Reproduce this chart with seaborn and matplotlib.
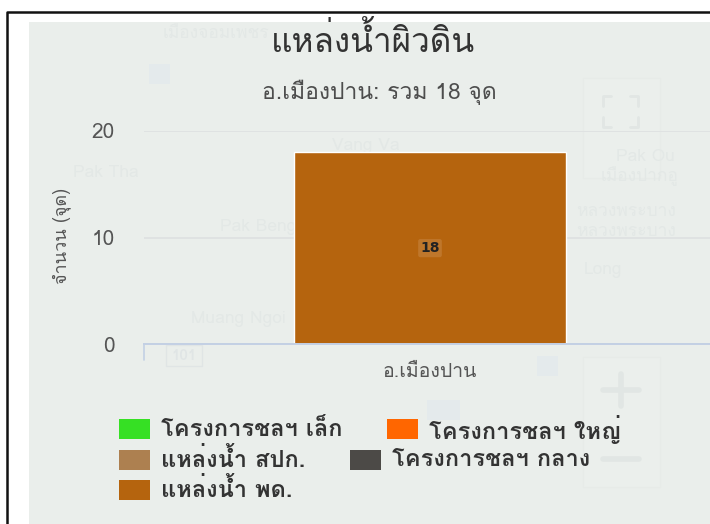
import pandas as pd
import seaborn as sns
import matplotlib
matplotlib.use('Agg')
import matplotlib.pyplot as plt
from matplotlib.patches import Rectangle

# data
districts = ['อ.เมืองปาน']
sources = ['โครงการชลฯ เล็ก', 'โครงการชลฯ ใหญ่', 'แหล่งน้ำ สปก.', 'โครงการชลฯ กลาง', 'แหล่งน้ำ พด.']
counts = [0, 0, 0, 0, 18]
colors = ['#36e024', '#ff6600', '#ad8050', '#4c4a47', '#b5640e']
y_ticks = [0, 10, 20]

title = 'แหล่งน้ำผิวดิน'
subtitle = 'อ.เมืองปาน: รวม 18 จุด'
y_title = 'จำนวน (จุด)'

# faint base map labels behind the chart
map_labels = ['Vang Va', 'Pak Ou', 'เมืองปากอู', 'Pak Tha', 'Pak Beng', 'Muang Ngoi', 'Long', 'หลวงพระบาง', 'หลวงพระบาง', 'เมืองจอมเพชร']
map_label_xy = [(366, 146), (646, 157), (640, 176), (106, 173), (258, 227), (238, 319), (603, 270), (626, 212), (626, 232), (216, 34)]

sns.set_theme(style='white')
plt.rcParams['font.family'] = ['Loma', 'DejaVu Sans']

fig = plt.figure(figsize=(7.1, 5.24), dpi=100, facecolor='white')

# background layer in pixel coordinates
bg = fig.add_axes([0, 0, 1, 1], zorder=0)
bg.set_xlim(0, 710)
bg.set_ylim(524, 0)
bg.axis('off')
bg.add_patch(Rectangle((29, 22), 681, 502, color='#eaeeeb', lw=0))
bg.plot([7, 7, 710], [524, 12, 12], color='#111111', lw=1.8)

for label, (x, y) in zip(map_labels, map_label_xy):
    bg.text(x, y, label, color='#e3e8e6', fontsize=12.5, ha='center', va='center')

# map controls and road signs
bg.add_patch(Rectangle((583, 78), 77, 100, fc='#ebefec', ec='#e7ebe8', lw=0.8))
bg.add_patch(Rectangle((583, 357), 77, 130, fc='#ebefec', ec='#e7ebe8', lw=0.8))
bg.plot([603, 639], [390, 390], color='#e1e6e4', lw=4)
bg.plot([621, 621], [374, 406], color='#e1e6e4', lw=4)
bg.plot([603, 639], [459, 459], color='#e1e6e4', lw=4)
bg.plot([603, 603, 611], [106, 96, 96], color='#e1e6e4', lw=2)
bg.plot([630, 638, 638], [96, 96, 106], color='#e1e6e4', lw=2)
bg.plot([603, 603, 611], [117, 127, 127], color='#e1e6e4', lw=2)
bg.plot([630, 638, 638], [127, 127, 117], color='#e1e6e4', lw=2)
bg.add_patch(Rectangle((149, 64), 21, 20, color='#e4eaec', lw=0))
bg.add_patch(Rectangle((537, 356), 21, 20, color='#e4eaec', lw=0))
bg.add_patch(Rectangle((427, 400), 33, 20, color='#e4eaec', lw=0))
bg.add_patch(Rectangle((166, 345), 36, 21, fc='none', ec='#e0e5e5', lw=1))
bg.text(184, 356, '101', color='#e0e5e5', fontsize=11, fontweight='bold', ha='center', va='center')

# chart
df = pd.DataFrame({'district': districts * len(sources), 'source': sources, 'count': counts})
ax = fig.add_axes([144 / 710, 1 - 344 / 524, 566 / 710, 213 / 524], zorder=1)
ax.patch.set_alpha(0)
sns.barplot(data=df, x='district', y='count', hue='source', hue_order=sources,
            palette=colors, saturation=1, dodge=False, width=0.477, legend=False,
            edgecolor='white', linewidth=1, ax=ax)
for bar in ax.patches:
    if bar.get_height() == 0:
        bar.set_visible(False)

ax.set_ylim(0, 20)
ax.set_xlim(-0.5, 0.4895)
ax.set_yticks(y_ticks)
ax.set_ylabel('')
ax.set_xlabel('')
ax.grid(axis='y', color='#dfe2e2', lw=1.4)
ax.set_axisbelow(True)
for side in ['top', 'right', 'left']:
    ax.spines[side].set_visible(False)
ax.spines['bottom'].set_color('#c3d0e4')
ax.spines['bottom'].set_linewidth(1.4)
ax.tick_params(axis='y', length=0, labelsize=15, labelcolor='#555555', pad=21)
ax.tick_params(axis='x', length=0, labelsize=14, labelcolor='#555555', pad=14)

ax.bar_label(ax.containers[-1], labels=[str(c) for c in counts[-1:]], label_type='center',
             fontsize=10, fontweight='bold', color='#222222', family='DejaVu Sans',
             bbox=dict(boxstyle='round,pad=0.15', fc='#c98a48', ec='none', alpha=0.5))

# vertical stub at the axis start
bg.plot([144, 144], [344, 360], color='#c3d0e4', lw=1.2)

bg.text(373, 41, title, fontsize=24, color='#333333', ha='center', va='center')
bg.text(379, 92, subtitle, fontsize=16.5, color='#4d4d4d', ha='center', va='center')
bg.text(62, 236, y_title, fontsize=13, color='#555555', rotation=90, ha='center', va='center')

# legend rows are uneven, so place entries by hand
legend_rows = [(119, 429, 0), (387, 429, 1), (119, 460, 2), (350, 460, 3), (119, 490, 4)]
for x, y, i in legend_rows:
    bg.add_patch(Rectangle((x, y - 10), 31, 20, color=colors[i], lw=0))
    bg.text(x + 42, y, sources[i], fontsize=17, fontweight='bold', color='#333333', ha='left', va='center')

fig.savefig('out.png', dpi=100)
